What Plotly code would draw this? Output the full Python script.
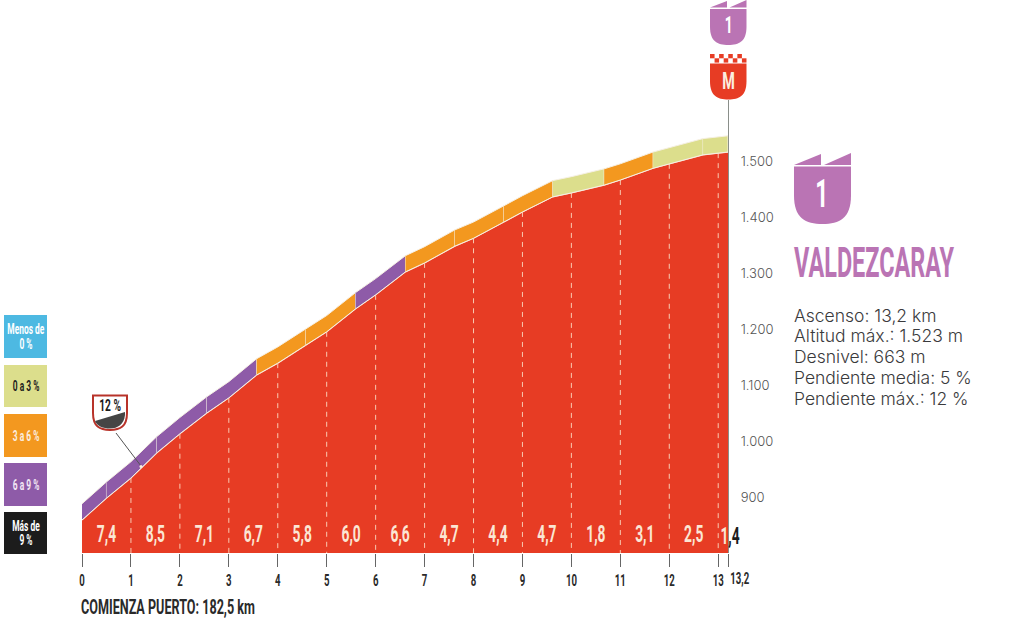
import plotly.graph_objects as go

# profile (km, metres)
km = [0, 0.5, 1, 1.53, 2, 2.55, 3, 3.57, 4, 4.57, 5, 5.59, 6, 6.61, 7, 7.62, 8, 8.62, 9,
      9.62, 10, 10.67, 11, 11.67, 12, 12.69, 13, 13.2]
elevation = [859, 898, 934, 979, 1013, 1050, 1077, 1118, 1139, 1171, 1195, 1236, 1261, 1302, 1318,
             1348, 1362, 1391, 1409, 1436, 1443, 1457, 1466, 1487, 1495, 1511, 1514, 1516]

# coloured band above the profile
band_breaks = [0, 0.5, 1.53, 2.55, 3.57, 4.57, 5.59, 6.61, 7.62, 8.62, 9.62, 10.67, 11.67, 12.69, 13.2]
band_classes = ["6a9", "6a9", "6a9", "6a9", "3a6", "3a6", "6a9", "3a6", "3a6", "3a6", "0a3", "3a6", "0a3", "0a3"]
band_height = 29

# grade per kilometre
grade_km = [0.5, 1.5, 2.5, 3.5, 4.5, 5.5, 6.5, 7.5, 8.5, 9.5, 10.5, 11.5, 12.5]
grade_labels = ["7,4", "8,5", "7,1", "6,7", "5,8", "6,0", "6,6", "4,7", "4,4", "4,7", "1,8", "3,1", "2,5"]

x_ticks = [0, 1, 2, 3, 4, 5, 6, 7, 8, 9, 10, 11, 12, 13, 13.2]
x_tick_labels = ["0", "1", "2", "3", "4", "5", "6", "7", "8", "9", "10", "11", "12", "13", ""]
y_ticks = [900, 1000, 1100, 1200, 1300, 1400, 1500]
y_tick_labels = ["900", "1.000", "1.100", "1.200", "1.300", "1.400", "1.500"]

legend_labels = [["Menos de", "0 %"], ["0 a 3 %"], ["3 a 6 %"], ["6 a 9 %"], ["Más de", "9 %"]]
legend_keys = ["neg", "0a3", "3a6", "6a9", "9up"]
legend_text = ["white", "#1c1c1c", "#fbeee0", "#f3e8f5", "white"]

info_lines = ["Ascenso: 13,2 km", "Altitud máx.: 1.523 m", "Desnivel: 663 m",
              "Pendiente media: 5 %", "Pendiente máx.: 12 %"]

COLORS = {"neg": "#4db9e2", "0a3": "#dcde8c", "3a6": "#f3981f", "6a9": "#8e5ba8", "9up": "#1c1c1c"}
RED = "#e73c24"
MAUVE = "#ba74b4"
NARROW = "Roboto"
WIDTH, HEIGHT = 1024, 625

# no narrow font is installed, so squeeze the Roboto texts; also drop the page margin
POST_SCRIPT = """
document.documentElement.style.overflow = 'hidden';
document.body.style.margin = '0';
document.body.style.overflow = 'hidden';
document.querySelectorAll('text').forEach(function (el) {
    if (el.style.fontFamily.indexOf('Roboto') >= 0) {
        var t = el.textContent;
        var k = t === 'VALDEZCARAY' ? 0.545 : (t.indexOf('COMIENZA') === 0 ? 0.63 : 0.6);
        var w = el.getComputedTextLength() * k;
        el.setAttribute('textLength', w);
        el.setAttribute('lengthAdjust', 'spacingAndGlyphs');
    }
});
"""


def fx(px):
    return px / WIDTH


def fy(py):
    return 1 - py / HEIGHT


def path_of(points):
    return "M " + " L ".join(f"{fx(x):.5f},{fy(y):.5f}" for x, y in points) + " Z"


def shield_path(x0, x1, y0, y1):
    # flat top, straight sides, rounded bottom
    w = x1 - x0
    ym = y1 - w * 0.5
    return (f"M {fx(x0):.5f},{fy(y0):.5f} L {fx(x1):.5f},{fy(y0):.5f} L {fx(x1):.5f},{fy(ym):.5f} "
            f"C {fx(x1):.5f},{fy(y1 - w * 0.1):.5f} {fx(x0 + w * 0.8):.5f},{fy(y1):.5f} {fx(x0 + w * 0.5):.5f},{fy(y1):.5f} "
            f"C {fx(x0 + w * 0.2):.5f},{fy(y1):.5f} {fx(x0):.5f},{fy(y1 - w * 0.1):.5f} {fx(x0):.5f},{fy(ym):.5f} Z")


def paper_shape(path, color, line=None, width=0):
    return dict(type="path", path=path, xref="paper", yref="paper", fillcolor=color,
                line=dict(color=line or color, width=width))


def paper_rect(x0, y0, x1, y1, color):
    return dict(type="rect", xref="paper", yref="paper", x0=fx(x0), x1=fx(x1), y0=fy(y0), y1=fy(y1),
                fillcolor=color, line=dict(width=0))


def paper_text(x, y, text, size, color, font=NARROW, anchor="center", weight=700):
    return dict(xref="paper", yref="paper", x=fx(x), y=fy(y), text=text, showarrow=False, xanchor=anchor,
                yanchor="middle", align="center" if anchor == "center" else "left",
                font=dict(family=font, size=size, color=color, weight=weight))


fig = go.Figure()

# red mountain
fig.add_trace(go.Scatter(x=km, y=elevation, mode="lines", fill="tozeroy", fillcolor=RED,
                         line=dict(color="#fbd9c8", width=1.2), hoverinfo="skip"))

# white dashes at each kilometre
dash_x, dash_y = [], []
for k in x_ticks[1:-1]:
    i = km.index(k)
    dash_x += [k, k, None]
    dash_y += [elevation[i], 800, None]
fig.add_trace(go.Scatter(x=dash_x, y=dash_y, mode="lines", line=dict(color="#f9c9b0", width=1, dash="5px,5px"),
                         hoverinfo="skip"))

# gradient band, one polygon per segment
for start, end, cls in zip(band_breaks[:-1], band_breaks[1:], band_classes):
    seg = [(k, e) for k, e in zip(km, elevation) if start <= k <= end]
    xs = [s[0] for s in seg]
    top = [s[1] + band_height for s in seg]
    bottom = [s[1] for s in seg]
    fig.add_trace(go.Scatter(x=xs + xs[::-1], y=top + bottom[::-1], mode="lines", fill="toself",
                             fillcolor=COLORS[cls], line=dict(color="#f6f0e4", width=1), hoverinfo="skip"))

fig.add_trace(go.Scatter(x=grade_km, y=[830] * len(grade_km), mode="text", text=grade_labels,
                         textfont=dict(family=NARROW, size=23, color="#fbe6d4", weight=700), hoverinfo="skip"))

shapes = []
annotations = []

# legend blocks on the left
for (y0, y1), key, label, col in zip([(315, 358), (365, 407), (414, 457), (463, 506), (512, 554)],
                                     legend_keys, legend_labels, legend_text):
    shapes.append(paper_rect(4, y0, 47, y1, COLORS[key]))
    mid = (y0 + y1) / 2
    for j, part in enumerate(label):
        annotations.append(paper_text(25.5, mid + (j - (len(label) - 1) / 2) * 14.5, part, 14, col))

# category badge above the summit
shapes.append(paper_shape(shield_path(710, 746.5, 9, 45), MAUVE))
shapes.append(paper_shape(path_of([(710, 7.5), (727, 1), (727, 7.5)]), MAUVE))
shapes.append(paper_shape(path_of([(729.5, 7.5), (746.5, 0), (746.5, 7.5)]), MAUVE))
annotations.append(paper_text(728, 26, "1", 23, "white"))

# summit badge with checkered strip
for col in range(8):
    for row in range(2):
        if (col + row) % 2 == 0:
            cx = 710 + col * 4.56
            shapes.append(paper_rect(cx, 54 + row * 4.3, cx + 4.56, 58.3 + row * 4.3, RED))
shapes.append(paper_shape(shield_path(710, 746.5, 63.5, 99.5), RED))
annotations.append(paper_text(728, 81, "M", 24, "#fbeee0"))

# big category badge
shapes.append(paper_shape(shield_path(794, 851, 166.5, 224), MAUVE))
shapes.append(paper_shape(path_of([(794, 165), (821, 154), (821, 165)]), MAUVE))
shapes.append(paper_shape(path_of([(824, 165), (851, 153), (851, 165)]), MAUVE))
annotations.append(paper_text(822, 194, "1", 38, "white"))

annotations.append(paper_text(792, 262, "VALDEZCARAY", 43, MAUVE, anchor="left"))

for i, line in enumerate(info_lines):
    annotations.append(paper_text(792, 315 + i * 20.8, line, 17.5, "#3a3a3c", font="Inter", anchor="left", weight=300))

# 12 % marker
shapes.append(paper_shape(shield_path(93, 127, 395.5, 430), "white", line="#b8332a", width=2))
shapes.append(paper_shape(
    f"M {fx(95):.5f},{fy(421):.5f} L {fx(125):.5f},{fy(412):.5f} L {fx(125):.5f},{fy(415):.5f} "
    f"C {fx(124):.5f},{fy(424):.5f} {fx(118):.5f},{fy(428.5):.5f} {fx(110):.5f},{fy(428.5):.5f} "
    f"C {fx(103):.5f},{fy(428.5):.5f} {fx(97):.5f},{fy(426):.5f} {fx(95):.5f},{fy(421):.5f} Z", "#454545"))
shapes.append(dict(type="line", xref="paper", yref="paper", x0=fx(116), y0=fy(433), x1=fx(141), y1=fy(466),
                   line=dict(color="#555555", width=1)))
shapes.append(dict(type="circle", xref="paper", yref="paper", x0=fx(139.5), x1=fx(142.5), y0=fy(465), y1=fy(468),
                   fillcolor="#fbeee0", line=dict(width=0)))
annotations.append(paper_text(109.5, 405, "12 %", 17, "#1c1c1c"))

# last grade straddles the axis, half white and half dark
annotations.append(paper_text(729.5, 536,
                              '<span style="color:#fbe6d4">1</span><span style="color:#1c1c1c">,4</span>',
                              23, "#1c1c1c"))
annotations.append(paper_text(739, 578, "13,2", 16, "#2a2a2a"))
annotations.append(paper_text(78.5, 607, "COMIENZA PUERTO: 182,5 km", 20, "#2a2a2a", anchor="left"))

fig.update_layout(
    width=WIDTH, height=HEIGHT, showlegend=False, paper_bgcolor="white", plot_bgcolor="white",
    margin=dict(l=0, r=0, t=0, b=0, autoexpand=False), shapes=shapes, annotations=annotations,
    xaxis=dict(domain=[82 / WIDTH, 728 / WIDTH], range=[0, 13.2], tickvals=x_ticks, ticktext=x_tick_labels,
               ticks="outside", ticklen=13, tickwidth=1, tickcolor="#666666", showgrid=False, zeroline=False,
               showline=False, tickfont=dict(family=NARROW, size=16, color="#2a2a2a", weight=700), tickangle=0),
    yaxis=dict(domain=[(HEIGHT - 553) / HEIGHT, (HEIGHT - 100) / HEIGHT], range=[800, 1608.9], side="right",
               tickvals=y_ticks, ticktext=y_tick_labels, showgrid=False, zeroline=False, showline=True,
               linecolor="#8a8f8a", linewidth=1.2, ticks="", ticklabelstandoff=9,
               tickfont=dict(family="Inter", size=13, color="#555555", weight=300)),
)

fig.write_html("out.html", post_script=POST_SCRIPT, config=dict(displayModeBar=False))
